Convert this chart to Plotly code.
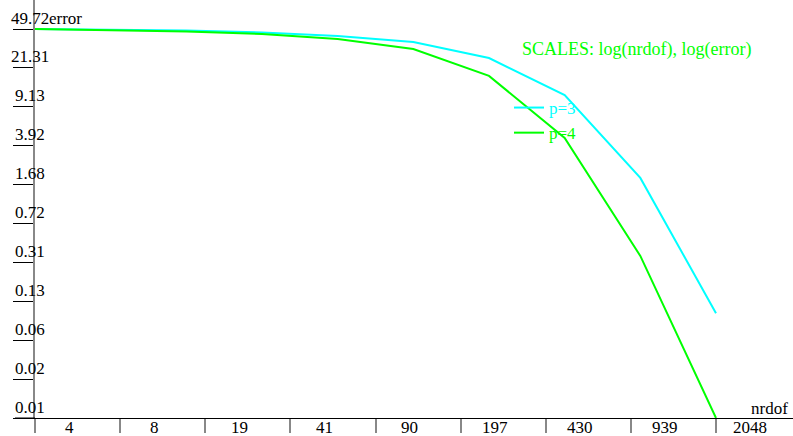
import math
import plotly.graph_objects as go

# ---- data ----
nrdof = [4, 8, 16, 32, 64, 128, 256, 512, 1024, 2048]
error_p3 = [49.72, 49.2, 48.1, 46.1, 42.7, 37.5, 26.4, 11.8, 1.94, 0.102]
error_p4 = [49.72, 48.6, 47.1, 44.6, 40.0, 32.2, 17.9, 4.63, 0.355, 0.0104]

y_tick_labels = ["49.72", "21.31", "9.13", "3.92", "1.68", "0.72",
                 "0.31", "0.13", "0.06", "0.02", "0.01"]
x_tick_labels = ["4", "8", "19", "41", "90", "197", "430", "939", "2048"]

CYAN = "#00FFFF"
GREEN = "#00FF00"
FONT = "Liberation Serif, Times New Roman, serif"
FS = 17

# ---- tick positions (evenly spaced on the log scales) ----
ymax = max(error_p3 + error_p4)
ymin = min(error_p3 + error_p4)
ny = len(y_tick_labels) - 1
y_tickvals = [ymax * (ymin / ymax) ** (k / ny) for k in range(ny + 1)]

xmin, xmax = min(nrdof), max(nrdof)
nx = len(x_tick_labels) - 1
x_tickvals = [xmin * (xmax / xmin) ** (k / nx) for k in range(nx + 1)]

# ---- ranges ----
lx0, lx1 = math.log10(xmin), math.log10(xmax)
x_range = [lx0, lx1 + (lx1 - lx0) * 77 / 681]
ly0, ly1 = math.log10(ymin), math.log10(ymax)
y_range = [ly0, ly1 + (ly1 - ly0) * 29 / 389]

fig = go.Figure()
fig.add_trace(go.Scatter(x=nrdof, y=error_p3, mode="lines",
                         line=dict(color=CYAN, width=2),
                         name=f"<span style='color:{CYAN}'>p=3</span>"))
fig.add_trace(go.Scatter(x=nrdof, y=error_p4, mode="lines",
                         line=dict(color=GREEN, width=2),
                         name=f"<span style='color:{GREEN}'>p=4</span>"))

annotations = []
for v, t in zip(y_tickvals, y_tick_labels):
    annotations.append(dict(xref="paper", x=0, xshift=-5, xanchor="center",
                            yref="y", y=math.log10(v), yshift=11, yanchor="middle",
                            text=t, showarrow=False,
                            font=dict(family=FONT, size=FS, color="black")))
for v, t in zip(x_tickvals, x_tick_labels):
    annotations.append(dict(xref="x", x=math.log10(v), xshift=34, xanchor="center",
                            yref="paper", y=0, yshift=-9, yanchor="middle",
                            text=t, showarrow=False,
                            font=dict(family=FONT, size=FS, color="black")))
annotations.append(dict(xref="paper", x=0, xshift=12, xanchor="left",
                        yref="y", y=ly1, yshift=11, yanchor="middle",
                        text="error", showarrow=False,
                        font=dict(family=FONT, size=FS, color="black")))
annotations.append(dict(xref="paper", x=1, xshift=-3, xanchor="right",
                        yref="paper", y=0, yshift=10, yanchor="middle",
                        text="nrdof", showarrow=False,
                        font=dict(family=FONT, size=FS, color="black")))
annotations.append(dict(xref="paper", x=(520 - 35) / 758, xanchor="left",
                        yref="paper", y=1 - 50 / 418, yanchor="middle",
                        text="SCALES: log(nrdof), log(error)", showarrow=False,
                        font=dict(family=FONT, size=18, color=GREEN)))

shapes = [dict(type="line", xref="paper", yref="paper",
               x0=-20 / 758, x1=0, y0=0, y1=0,
               line=dict(color="black", width=1))]

fig.update_layout(
    width=793, height=436,
    margin=dict(l=35, r=0, t=0, b=18, pad=0),
    paper_bgcolor="white", plot_bgcolor="white",
    font=dict(family=FONT, size=FS, color="black"),
    showlegend=True,
    legend=dict(x=(509 - 35) / 758, xanchor="left",
                y=1 - 90 / 418, yanchor="top",
                bgcolor="rgba(0,0,0,0)", borderwidth=0,
                itemwidth=30, font=dict(family=FONT, size=FS),
                tracegroupgap=0),
    xaxis=dict(type="log", range=x_range, showgrid=False, zeroline=False,
               showline=True, linecolor="black", linewidth=1,
               tickvals=x_tickvals, ticks="outside", ticklen=14,
               tickwidth=2, tickcolor="#888888", showticklabels=False,
               automargin=False, fixedrange=True),
    yaxis=dict(type="log", range=y_range, showgrid=False, zeroline=False,
               showline=True, linecolor="#888888", linewidth=2,
               tickvals=y_tickvals, ticks="outside", ticklen=20,
               tickwidth=1, tickcolor="black", showticklabels=False,
               automargin=False, fixedrange=True),
    annotations=annotations,
    shapes=shapes,
)

fig.write_html("out.html",
               config={"displayModeBar": False},
               post_script="document.body.style.margin='0px';document.body.style.overflow='hidden';")
